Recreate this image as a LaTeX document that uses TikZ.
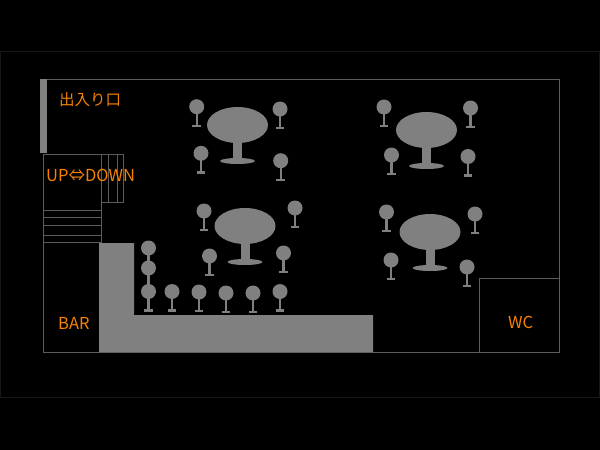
\documentclass[tikz,border=0pt]{standalone}
\usepackage{fontspec}
\setmainfont{Noto Sans CJK JP}
\definecolor{floorgray}{HTML}{808080}
\definecolor{wallgray}{HTML}{5C5C5C}
\definecolor{labelorange}{HTML}{F58200}
\definecolor{edgegray}{HTML}{161616}
\tikzset{
  wall/.style={draw=wallgray, line width=1pt},
  furniture/.style={fill=floorgray},
  roomlabel/.style={text=labelorange, font=\fontsize{15.5}{15.5}\selectfont, inner sep=0pt},
  latinlabel/.style={roomlabel, font=\fontsize{16.5}{16.5}\selectfont}
}
\begin{document}
\begin{tikzpicture}[x=1pt,y=-1pt]
  % Draw background
  \fill (0,0) rectangle (600,450);
  \useasboundingbox (0,0) rectangle (600,450);
  \draw [color=edgegray, line width=0.7pt] (0,51) rectangle (599,397);

  % Draw outer walls
  \draw [wall] (40,79) -- (559,79) -- (559,352) -- (43,352) -- (43,154);
  \draw [wall] (479,352) -- (479,278) -- (559,278);

  % Draw stairs
  \draw [wall] (43,154) -- (123,154) -- (123,202) -- (101,202);
  \draw [wall] (101,154) -- (101,243);
  \foreach \sx in {108.5,117}
    \draw [wall] (\sx,154) -- (\sx,202);
  \foreach \sy in {210,217.7,225.3,235,242.7}
    \draw [wall] (43,\sy) -- (101,\sy);

  % Draw entrance and bar counter
  \fill [furniture] (40,79) rectangle (47,153);
  \fill [furniture] (99,243) -- (134,243) -- (134,315) -- (373,315) -- (373,352) -- (99,352) -- cycle;

  % Draw tables
  \foreach \tx/\ty in {237.5/125, 426.5/130, 245/226, 430/232} {
    \fill [furniture] (\tx,\ty) ellipse (30.5 and 18);
    \fill [furniture] (\tx-4.5,\ty+10) rectangle (\tx+4.5,\ty+36);
    \fill [furniture] (\tx,\ty+36) ellipse (17.5 and 3);
  }

  % Draw stools
  \foreach \cx/\cy in {196.7/106.7, 280/109, 201/153.3, 280.7/160.7,
                       384/107, 470.5/108, 391.5/155, 468/156.5,
                       204/211, 295/208, 209.5/256, 283.5/253,
                       386.5/212, 475/214, 391/260, 467/267,
                       148.5/248, 148.5/268, 148.5/291.5, 172/291.5,
                       199/292, 226/293, 253/293, 280/291.5} {
    \fill [furniture] (\cx,\cy) circle [radius=7.5];
    \fill [furniture] (\cx-1.1,\cy) rectangle (\cx+1.1,\cy+19);
    \fill [furniture] (\cx-4.4,\cy+17.8) rectangle (\cx+4.4,\cy+20.4);
  }

  % Add labels
  \node (entrance) [roomlabel, anchor=west] at (59,100) {出入り口};
  \node (updown) [latinlabel, anchor=west] at (46,175.5) {UP⇔DOWN};
  \node (bar) [latinlabel, anchor=west] at (58,323.5) {BAR};
  \node (wc) [latinlabel, anchor=west] at (508,322) {WC};
\end{tikzpicture}
\end{document}
